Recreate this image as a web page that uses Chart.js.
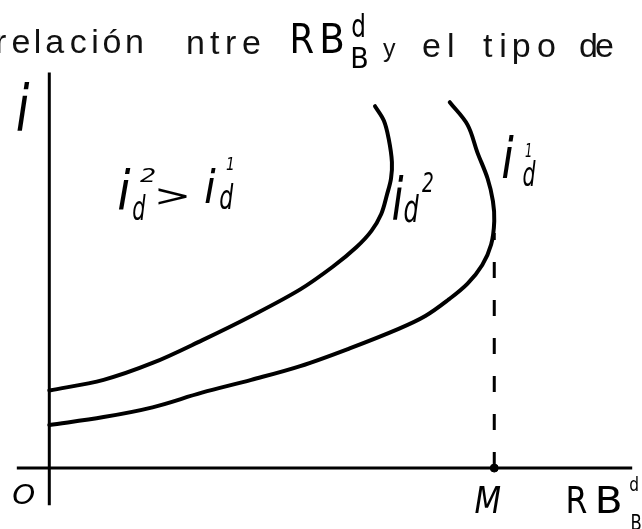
<!DOCTYPE html>
<html lang="es">
<head>
<meta charset="UTF-8">
<meta name="viewport" content="width=device-width, initial-scale=1.0">
<title>Relación entre RB y el tipo de interés</title>
<script src="https://cdn.jsdelivr.net/npm/chart.js"></script>
<style>
  html, body { margin: 0; padding: 0; background: #fff; }
  #wrap { width: 642px; height: 529px; position: relative; }
</style>
</head>
<body>
<div id="wrap"><canvas id="rbChart"></canvas></div>
<script>
  // curva i_d^1 (la de fuera, toca M)
  const curve1X = [0, 1.22, 2.32, 3.43, 4.54, 5.64, 6.75, 7.85, 8.45, 8.96, 9.4, 9.73, 9.93, 10.0, 9.97, 9.85, 9.62, 9.4, 9.0];
  const curve1Y = [0.97, 1.15, 1.37, 1.7, 1.99, 2.3, 2.7, 3.14, 3.43, 3.79, 4.16, 4.58, 5.04, 5.57, 6.02, 6.53, 7.12, 7.74, 8.25];
  // curva i_d^2
  const curve2X = [0, 1.22, 2.32, 3.43, 4.54, 5.64, 6.37, 6.9, 7.24, 7.46, 7.59, 7.68, 7.7, 7.63, 7.52, 7.32];
  const curve2Y = [1.75, 1.99, 2.37, 2.88, 3.43, 4.03, 4.54, 4.98, 5.35, 5.73, 6.17, 6.53, 6.9, 7.41, 7.83, 8.16];

  const mValue = 10;     // punto M sobre el eje
  const mTop = 5.3;      // hasta donde sube la discontinua
  const xAxisRange = [-0.73, 13.1];
  const yAxisRange = [-0.84, 8.92];

  const pts = (xs, ys) => xs.map((x, i) => ({ x: x, y: ys[i] }));

  // escala: 45.2 px por unidad, origen en (45, 472)
  const PX = 45.2;

  const HAND = '"DejaVu Sans"';
  const TYPE = '"Liberation Sans"';

  // dibuja un texto ajustando su tinta a una caja
  function inkBox(ctx, txt, family, style, x0, y0, x1, y1) {
    ctx.font = style + ' 100px ' + family;
    let m = ctx.measureText(txt);
    const h100 = m.actualBoundingBoxAscent + m.actualBoundingBoxDescent;
    const fs = 100 * (y1 - y0) / h100;
    ctx.font = style + ' ' + fs + 'px ' + family;
    m = ctx.measureText(txt);
    const w = m.actualBoundingBoxLeft + m.actualBoundingBoxRight;
    const h = m.actualBoundingBoxAscent + m.actualBoundingBoxDescent;
    const sy = (y1 - y0) / h;
    const sx = (x1 - x0) / w;
    ctx.save();
    ctx.translate(x0 + m.actualBoundingBoxLeft * sx, y0 + m.actualBoundingBoxAscent * sy);
    ctx.scale(sx, sy);
    ctx.fillText(txt, 0, 0);
    ctx.restore();
  }

  // palabra con letras espaciadas: la tinta va de x0 a x1
  function spread(ctx, word, x0, x1, base, size) {
    ctx.font = size + 'px ' + TYPE;
    const chars = [...word];
    const ms = chars.map(c => ctx.measureText(c));
    const ws = ms.map(m => m.actualBoundingBoxLeft + m.actualBoundingBoxRight);
    const total = ws.reduce((a, b) => a + b, 0);
    const gap = chars.length > 1 ? (x1 - x0 - total) / (chars.length - 1) : 0;
    let x = x0;
    chars.forEach((c, i) => {
      ctx.fillText(c, x + ms[i].actualBoundingBoxLeft, base);
      x += ws[i] + gap;
    });
  }

  const labelsPlugin = {
    id: 'labels',
    afterDraw(chart) {
      const ctx = chart.ctx;
      ctx.save();
      ctx.textAlign = 'left';
      ctx.textBaseline = 'alphabetic';

      // titulo
      ctx.fillStyle = '#111';
      spread(ctx, 'relación', -3, 142, 53, 34);
      spread(ctx, 'ntre', 188, 260, 54, 34);
      ctx.fillStyle = '#000';
      inkBox(ctx, 'R', HAND, 'normal', 292, 23, 313, 53);
      inkBox(ctx, 'B', HAND, 'normal', 323, 23, 343, 53);
      inkBox(ctx, 'd', HAND, 'normal', 352, 13, 364, 37);
      inkBox(ctx, 'B', HAND, 'normal', 352, 47, 367, 68);
      ctx.fillStyle = '#111';
      inkBox(ctx, 'y', TYPE, 'normal', 383, 43, 396, 63);
      spread(ctx, 'el', 423, 453, 57, 34);
      spread(ctx, 'tipo', 483, 555, 57, 34);
      spread(ctx, 'de', 580, 613, 57, 34);

      ctx.fillStyle = '#000';
      const sx = chart.scales.x, sy = chart.scales.y;
      const ox = sx.getPixelForValue(0), oy = sy.getPixelForValue(0);
      const mx = sx.getPixelForValue(mValue);

      // ejes
      inkBox(ctx, 'i', HAND, 'italic', ox - 32, 82, ox - 20, 132);
      inkBox(ctx, 'O', HAND, 'italic', ox - 36, oy + 17, ox - 15, oy + 36);
      inkBox(ctx, 'M', HAND, 'italic', mx - 19, oy + 18, mx + 6, oy + 45);
      inkBox(ctx, 'R', HAND, 'normal', 568, oy + 18, 587, oy + 45);
      inkBox(ctx, 'B', HAND, 'normal', 598, oy + 18, 620, oy + 45);
      inkBox(ctx, 'd', HAND, 'normal', 630, oy + 8, 638, oy + 23);
      inkBox(ctx, 'B', HAND, 'normal', 632, oy + 46, 641, oy + 62);

      // i_d^2 > i_d^1
      inkBox(ctx, 'i', HAND, 'italic', 118, 168, 131, 210);
      inkBox(ctx, '2', HAND, 'italic', 140, 168, 155, 182);
      inkBox(ctx, 'd', HAND, 'italic', 133, 195, 146, 220);
      inkBox(ctx, '>', HAND, 'normal', 158, 188, 187, 205);
      inkBox(ctx, 'i', HAND, 'italic', 205, 168, 216, 203);
      inkBox(ctx, 'd', HAND, 'italic', 220, 183, 234, 210);
      inkBox(ctx, '1', HAND, 'italic', 226, 157, 233, 170);

      // etiquetas de las curvas
      inkBox(ctx, 'i', HAND, 'italic', 393, 175, 404, 220);
      inkBox(ctx, 'd', HAND, 'italic', 404, 193, 419, 223);
      inkBox(ctx, '2', HAND, 'italic', 422, 173, 433, 192);
      inkBox(ctx, 'i', HAND, 'italic', 502, 135, 514, 178);
      inkBox(ctx, 'd', HAND, 'italic', 523, 160, 536, 187);
      inkBox(ctx, '1', HAND, 'italic', 525, 143, 531, 157);
      ctx.restore();
    }
  };

  const ink = '#000';
  const lineSet = (data, width, extra) => Object.assign({
    data: data, showLine: true, borderColor: ink, backgroundColor: ink,
    borderWidth: width, pointRadius: 0, tension: 0, clip: false
  }, extra || {});

  new Chart(document.getElementById('rbChart'), {
    type: 'scatter',
    data: {
      datasets: [
        lineSet(pts(curve1X, curve1Y), 4, { tension: 0.35, borderCapStyle: 'round' }),
        lineSet(pts(curve2X, curve2Y), 4, { tension: 0.35, borderCapStyle: 'round' }),
        lineSet([{ x: xAxisRange[0], y: 0 }, { x: xAxisRange[1], y: 0 }], 3),
        lineSet([{ x: 0, y: yAxisRange[0] }, { x: 0, y: yAxisRange[1] }], 3),
        lineSet([{ x: mValue, y: 0 }, { x: mValue, y: mTop }], 3, { borderDash: [16, 22] }),
        { data: [{ x: mValue, y: 0 }], showLine: false, pointRadius: 4, backgroundColor: ink, borderColor: ink, clip: false }
      ]
    },
    options: {
      responsive: true,
      maintainAspectRatio: false,
      animation: false,
      events: [],
      layout: { padding: 0 },
      plugins: { legend: { display: false }, tooltip: { enabled: false }, title: { display: false } },
      scales: {
        x: { type: 'linear', display: false, min: -45 / PX, max: (642 - 45) / PX },
        y: { type: 'linear', display: false, min: -(529 - 472) / PX, max: 472 / PX }
      }
    },
    plugins: [labelsPlugin]
  });
</script>
</body>
</html>
